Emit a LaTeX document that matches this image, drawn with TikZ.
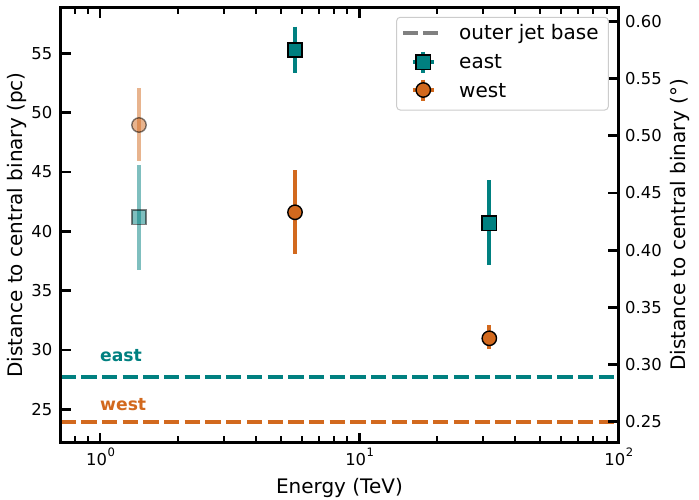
\documentclass[tikz,border=0pt]{standalone}
\usepackage{fontspec}
\setmainfont{DejaVu Sans}
\definecolor{eastc}{RGB}{0,128,128}
\definecolor{westc}{RGB}{210,105,30}
\definecolor{legedge}{RGB}{204,204,204}
\definecolor{leggray}{RGB}{128,128,128}
\newcommand{\supten}[1]{10\hspace{0.6pt}\raisebox{8.3pt}{\fontsize{11.6}{12}\selectfont #1}}
\begin{document}
\begin{tikzpicture}[x=1pt,y=-1pt,
  spine/.style={line width=3pt, line cap=rect},
  majortick/.style={line width=2.8pt},
  minortick/.style={line width=2pt},
  ebar/.style={line width=3.8pt},
  marker/.style={line width=1.4pt, draw=black},
  hline/.style={line width=4pt, dash pattern=on 15.3pt off 5.4pt},
  ticklab/.style={font=\fontsize{16.4}{19}\selectfont, inner sep=0pt},
  axlab/.style={font=\fontsize{20}{24}\selectfont, inner sep=0pt},
  leglab/.style={font=\fontsize{20}{24}\selectfont, inner sep=0pt, anchor=base west},
  reglab/.style={font=\fontsize{17.2}{20}\selectfont\bfseries, inner sep=0pt, anchor=base west},
]
\useasboundingbox (0,0) rectangle (699,499);
\def\XL{60.5}\def\XR{618.3}\def\YT{7.5}\def\YB{442.5}
% horizontal reference lines
\coordinate (e1) at (\XL,376.7); \coordinate (e2) at (\XR,376.7);
\coordinate (w1) at (\XL,421.7); \coordinate (w2) at (\XR,421.7);
\draw[hline, eastc] (e1) -- (e2);
\draw[hline, westc] (w1) -- (w2);
\node[reglab, text=eastc] (lbeast) at (100,361.7) {east};
\node[reglab, text=westc] (lbwest) at (100,410) {west};
% faded points at 1.4 TeV
\draw[ebar, westc, opacity=0.5] (139,88) -- (139,160.7);
\draw[marker, fill=westc, opacity=0.5] (139,125) circle[radius=7.2];
\draw[ebar, eastc, opacity=0.5] (139,165) -- (139,270);
\draw[marker, fill=eastc, opacity=0.5] (131.85,210.15) rectangle (146.15,224.45);
% 5.6 TeV
\draw[ebar, westc] (295,170) -- (295,253.7);
\draw[marker, fill=westc] (295,212.3) circle[radius=7.2];
\draw[ebar, eastc] (295,26.7) -- (295,73.3);
\draw[marker, fill=eastc] (287.85,42.85) rectangle (302.15,57.15);
% 31 TeV
\draw[ebar, eastc] (489.3,180) -- (489.3,264.7);
\draw[marker, fill=eastc] (482.15,216.15) rectangle (496.45,230.45);
\draw[ebar, westc] (489.3,325) -- (489.3,349.3);
\draw[marker, fill=westc] (489.3,338.3) circle[radius=7.2];
% x ticks
\foreach \xx in {100,359.2,618.3} {
  \draw[majortick] (\xx,\YB) -- (\xx,\YB-10);
  \draw[majortick] (\xx,\YT) -- (\xx,\YT+10);
}
\foreach \m in {0.8,0.9,2,3,4,5,6,7,8,9,20,30,40,50,60,70,80,90} {
  \pgfmathsetmacro\xx{100+259.2*log10(\m)}
  \draw[minortick] (\xx,\YB) -- (\xx,\YB-6.5);
  \draw[minortick] (\xx,\YT) -- (\xx,\YT+6.5);
}
% left y ticks
\foreach \v in {25,30,...,55} {
  \pgfmathsetmacro\yy{409.3-(\v-25)*11.87}
  \draw[majortick] (\XL,\yy) -- (\XL+10,\yy);
  \node[ticklab, anchor=base east] (ly\v) at (52.5,\yy+6) {\v};
}
% right y ticks
\foreach \d/\t in {0/0.25,1/0.30,2/0.35,3/0.40,4/0.45,5/0.50,6/0.55,7/0.60} {
  \pgfmathsetmacro\yy{421.7-\d*57.2}
  \draw[majortick] (\XR,\yy) -- (\XR-10,\yy);
  \node[ticklab, anchor=base west] (ry\d) at (625,\yy+6) {\t};
}
% x tick labels
\node[ticklab, anchor=base] (xl0) at (100.5,465) {\supten{0}};
\node[ticklab, anchor=base] (xl1) at (359.7,465) {\supten{1}};
\node[ticklab, anchor=base] (xl2) at (618.8,465) {\supten{2}};
% frame
\draw[spine] (\XL,\YT) rectangle (\XR,\YB);
% axis labels
\node[axlab, anchor=base] (xlab) at (339.4,493.3) {Energy (TeV)};
\node[axlab, anchor=base, rotate=90] (ylab) at (22.5,225) {Distance to central binary (pc)};
\node[axlab, anchor=base, rotate=90] (y2lab) at (685.5,225) {Distance to central binary (°)};
% legend
\draw[legedge, fill=white, fill opacity=0.8, rounded corners=3.5pt, line width=1pt] (396.7,17.3) rectangle (608.3,110);
\coordinate (lg1) at (403,33); \coordinate (lg2) at (440.5,33);
\draw[leggray, line width=4pt, dash pattern=on 15pt off 5pt] (lg1) -- (lg2);
\node[leglab] (lgt1) at (459,39.5) {outer jet base};
\draw[ebar, eastc] (423.3,51.8) -- (423.3,72.8);
\draw[ebar, eastc] (412.8,62.3) -- (433.8,62.3);
\draw[marker, fill=eastc] (416.15,55.15) rectangle (430.45,69.45);
\node[leglab] (lgt2) at (459,68.5) {east};
\draw[ebar, westc] (423.3,79.5) -- (423.3,100.5);
\draw[ebar, westc] (412.8,90) -- (433.8,90);
\draw[marker, fill=westc] (423.3,90) circle[radius=7.2];
\node[leglab] (lgt3) at (459,97) {west};
\end{tikzpicture}
\end{document}
